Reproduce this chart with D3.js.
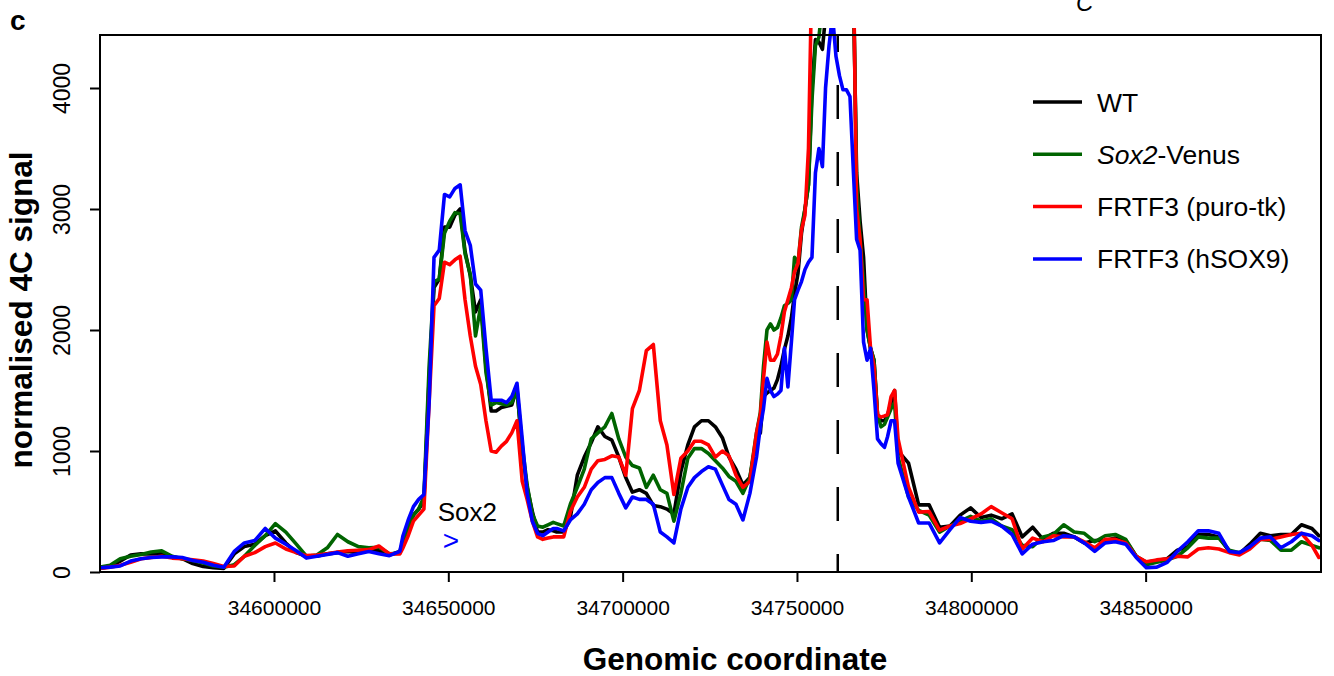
<!DOCTYPE html>
<html>
<head>
<meta charset="utf-8">
<script src="https://cdn.jsdelivr.net/npm/d3@7"></script>
<style>
  html, body { margin: 0; padding: 0; background: #fff; }
  svg { display: block; font-family: "Liberation Sans", Arial, Helvetica, sans-serif; }
</style>
</head>
<body>
<svg id="chart" width="1334" height="676"></svg>
<script>
// ---------------- data ----------------
const positions = [
  34550100, 34553000, 34555900, 34558900, 34561900, 34564800, 34567800, 34570800, 34573700, 34576700,
  34579700, 34582600, 34585600, 34588600, 34591500, 34594500, 34597500, 34600400, 34603400, 34606400,
  34609300, 34612300, 34615300, 34618200, 34621200, 34624200, 34627200, 34630100, 34633100, 34636100,
  34637000, 34638500, 34640000, 34641500, 34643000, 34644500, 34645900, 34647400, 34648900, 34650400,
  34651900, 34653400, 34654800, 34656300, 34657800, 34659300, 34660800, 34662300, 34663700, 34665200,
  34666700, 34668200, 34669700, 34671200, 34672600, 34674100, 34675600, 34677100, 34678600, 34680100,
  34681100, 34683100, 34685000, 34687000, 34689000, 34691000, 34692900, 34694900, 34696900, 34698900,
  34700900, 34702800, 34704800, 34706800, 34708800, 34710800, 34712700, 34714700, 34716700, 34718700,
  34720600, 34722600, 34724600, 34726600, 34728600, 34730500, 34732500, 34734500, 34736500, 34738400,
  34739500, 34740400, 34741400, 34742400, 34743400, 34744400, 34745400, 34746400, 34747400, 34748400,
  34749300, 34750300, 34751300, 34752300, 34753300, 34754300, 34755300, 34756300, 34757300, 34758200,
  34759200, 34760200, 34761200, 34762200, 34763200, 34764200, 34765200, 34766200, 34767100, 34768100,
  34769100, 34770100, 34771100, 34772100, 34773100, 34774100, 34775100, 34776000, 34777000, 34778000,
  34779000, 34782000, 34784900, 34787900, 34790900, 34793900, 34796800, 34799800, 34802800, 34805700,
  34808700, 34811700, 34814600, 34817600, 34820600, 34823500, 34826500, 34829500, 34832400, 34835400,
  34838400, 34841300, 34844300, 34847300, 34850200, 34853200, 34856200, 34859100, 34862100, 34865100,
  34868000, 34871000, 34874000, 34876900, 34879900, 34882900, 34885800, 34888800, 34891800, 34894700,
  34897700, 34899700
];

const wt = [
  30, 45, 90, 140, 150, 150, 150, 125, 110, 70, 45, 35, 30, 150, 210, 230, 300, 340, 240, 160,
  130, 130, 150, 160, 170, 160, 190, 175, 140, 170,
  250, 380, 470, 520, 580, 1600, 2350, 2420, 2850, 2850, 2950, 3000, 2650, 2450, 2150, 2250, 1700, 1330, 1330, 1360,
  1370, 1380, 1520, 1000, 700, 500, 330, 330, 350, 340,
  330, 330, 450, 800, 950, 1070, 1200, 1120, 1090, 950, 780, 660, 680, 650, 550, 540, 520, 480, 830, 1050,
  1200, 1250, 1250, 1200, 1110, 950, 850, 720, 780, 1100,
  1150, 1450, 1480, 1500, 1520, 1590, 1700, 1840, 1950, 2100, 2300, 2470, 2800, 3000, 3200, 4000, 4400, 4380, 4320, 4600,
  5000, 5000, 5000, 5000, 5000, 5000, 5000, 4800, 3300, 2900, 2600, 2000, 1850, 1750, 1300, 1250, 1250, 1300, 1400, 1500,
  1000, 900, 555, 555, 370, 380, 470, 530, 450, 470, 440, 480, 290, 370, 270, 320, 320, 290, 240, 260,
  260, 280, 260, 130, 80, 95, 110, 180, 210, 310, 310, 290, 170, 150, 230, 320, 300, 310, 310, 390,
  360, 300
];

const sox2Venus = [
  40, 55, 110, 130, 145, 165, 175, 130, 110, 95, 75, 50, 40, 60, 130, 220, 300, 400, 330, 230,
  130, 140, 200, 310, 250, 210, 200, 205, 150, 155,
  230, 360, 470, 520, 620, 1700, 2400, 2420, 2800, 2900, 2970, 2960, 2630, 2460, 1950, 2200, 1650, 1380, 1400, 1390,
  1380, 1400, 1500, 1050, 720, 480, 380, 370, 390, 410,
  400, 380, 560, 700, 850, 1100, 1150, 1200, 1310, 1100, 950, 880, 860, 700, 800, 680, 650, 420, 650, 940,
  1020, 1020, 980, 920, 860, 790, 750, 650, 780, 1150,
  1320, 1700, 2000, 2050, 2000, 2020, 2100, 2200, 2220, 2250, 2600, 2550, 2850, 3000, 3200, 3900, 4350, 4420, 4700, 5000,
  5000, 5000, 5000, 5000, 5000, 5000, 5000, 4900, 3200, 2760, 2400, 2000, 1850, 1750, 1300, 1200, 1220, 1280, 1350, 1400,
  950, 620, 510, 470, 330, 380, 420, 460, 420, 440, 380, 350, 220, 210, 290, 310, 390, 330, 320, 250,
  300, 310, 270, 130, 60, 80, 100, 130, 200, 290, 280, 280, 180, 160, 200, 270, 260, 180, 180, 250,
  220, 200
];

const puroTk = [
  30, 40, 55, 80, 110, 120, 130, 115, 110, 100, 90, 70, 45, 50, 130, 160, 210, 240, 190, 160,
  135, 140, 150, 165, 175, 180, 185, 215, 150, 150,
  200, 300, 420, 470, 520, 1400, 2200, 2260, 2560, 2540, 2580, 2610, 2250, 1950, 1700, 1550, 1250, 1000, 990, 1040,
  1080, 1150, 1250, 750, 600, 420, 290, 270, 280, 290,
  290, 290, 500, 620, 700, 850, 920, 930, 960, 950, 800, 1350, 1500, 1830, 1880, 1250, 1050, 640, 940, 1000,
  1080, 1080, 1050, 950, 1000, 960, 800, 700, 750, 1150,
  1300, 1600, 1900, 1750, 1750, 1800, 1950, 2150, 2250, 2350, 2480, 2550, 2830, 2950, 3500, 5000, 5000, 5000, 5000, 5000,
  5000, 5000, 5000, 5000, 5000, 5000, 5000, 5000, 3000, 2750, 2250, 2250, 1850, 1700, 1300, 1280, 1290, 1300, 1450, 1500,
  1100, 700, 495, 500, 345, 380, 400, 440, 480, 540, 490, 440, 190, 280, 250, 300, 290, 290, 250, 200,
  270, 270, 240, 130, 85, 100, 110, 130, 125, 190, 200, 190, 160, 140, 190, 270, 270, 290, 310, 320,
  220, 120
];

const hSox9 = [
  35, 40, 50, 90, 110, 120, 125, 125, 120, 95, 80, 55, 40, 170, 240, 260, 360, 280, 230, 175,
  115, 130, 145, 160, 130, 150, 170, 150, 135, 170,
  300, 430, 540, 600, 640, 1400, 2600, 2660, 3120, 3100, 3170, 3200, 2820, 2700, 2380, 2330, 1850, 1420, 1420, 1420,
  1400, 1450, 1560, 1100, 650, 420, 320, 300, 330, 360,
  360, 340, 430, 480, 560, 680, 740, 780, 780, 650, 530, 620, 600, 600, 560, 330, 290, 240, 520, 700,
  780, 830, 870, 850, 720, 600, 560, 430, 650, 950,
  1200, 1350, 1600, 1500, 1450, 1470, 1500, 1850, 1530, 1900, 2250, 2330, 2400, 2500, 2560, 2600, 3300, 3500, 3350, 4000,
  4350, 4600, 4260, 4100, 3985, 3985, 3930, 3300, 2750, 2660, 1900, 1750, 1850, 1500, 1100, 1060, 1030, 1120, 1250, 1250,
  900, 620, 405, 405, 240, 350, 450, 420, 410, 420, 380, 310, 150, 230, 250, 260, 300, 290, 240, 170,
  240, 250, 230, 120, 35, 40, 80, 170, 250, 340, 340, 320, 170, 160, 210, 280, 290, 200, 250, 320,
  300, 260
];

const seriesNames = ["WT", "Sox2-Venus", "FRTF3 (puro-tk)", "FRTF3 (hSOX9)"];
const seriesColors = ["#000000", "#006400", "#ff0000", "#0000ff"];
const xTicks = [34600000, 34650000, 34700000, 34750000, 34800000, 34850000];
const yTicks = [0, 1000, 2000, 3000, 4000];
const viewpoint = 34761700;
const sox2Position = 34651000;

// ---------------- drawing ----------------
const svg = d3.select("#chart");
const L = 100, R = 1321, T = 35, B = 572;

const x = d3.scaleLinear().domain([34550100, 34900300]).range([L, R]);
const y = d3.scaleLinear().domain([0, 4438]).range([B, T]);

svg.append("defs").append("clipPath").attr("id", "clip")
  .append("rect").attr("x", L).attr("y", 28).attr("width", R - L).attr("height", B - 28);

const allSeries = [wt, sox2Venus, puroTk, hSox9];
const line = d3.line().x((d, i) => x(positions[i])).y(d => y(d));

// dashed viewpoint line
svg.append("line")
  .attr("x1", x(viewpoint)).attr("x2", x(viewpoint))
  .attr("y1", T).attr("y2", B)
  .attr("stroke", "#000").attr("stroke-width", 2.5)
  .attr("stroke-dasharray", "34 33").attr("stroke-dashoffset", 17);

const g = svg.append("g").attr("clip-path", "url(#clip)");
allSeries.forEach((vals, k) => {
  g.append("path")
    .datum(vals)
    .attr("d", line)
    .attr("fill", "none")
    .attr("stroke", seriesColors[k])
    .attr("stroke-width", 3.6)
    .attr("stroke-linejoin", "round")
    .attr("stroke-linecap", "round");
});

// box
svg.append("rect").attr("x", L).attr("y", T).attr("width", R - L).attr("height", B - T)
  .attr("fill", "none").attr("stroke", "#000").attr("stroke-width", 2);

// x axis
const xAxis = svg.append("g").attr("transform", `translate(0,${B})`)
  .call(d3.axisBottom(x).tickValues(xTicks).tickFormat(d3.format("d")).tickSize(10).tickSizeOuter(0));
xAxis.select(".domain").remove();
xAxis.selectAll(".tick line").attr("stroke", "#000").attr("stroke-width", 2);
xAxis.selectAll(".tick text").attr("fill", "#000")
  .style("font-size", "21px").style("font-family", "'Liberation Sans', Arial, sans-serif")
  .attr("y", 43).attr("dy", 0);

// y axis
const yAxis = svg.append("g").attr("transform", `translate(${L},0)`)
  .call(d3.axisLeft(y).tickValues(yTicks).tickFormat(d3.format("d")).tickSize(10).tickSizeOuter(0));
yAxis.select(".domain").remove();
yAxis.selectAll(".tick line").attr("stroke", "#000").attr("stroke-width", 2);
yAxis.selectAll(".tick text").attr("fill", "#000")
  .style("font-size", "23px").style("font-family", "'Liberation Sans', Arial, sans-serif")
  .attr("transform", "rotate(-90)").attr("x", 0).attr("y", -30).attr("dy", 0)
  .attr("text-anchor", "middle");

// axis titles
svg.append("text").attr("x", 735).attr("y", 670).attr("text-anchor", "middle")
  .style("font-size", "31.5px").style("font-weight", "bold").text("Genomic coordinate");
svg.append("text").attr("transform", "translate(32,310) rotate(-90)").attr("text-anchor", "middle")
  .style("font-size", "31.5px").style("font-weight", "bold").text("normalised 4C signal");

// panel letter and cut-off header
svg.append("text").attr("x", 10).attr("y", 30).style("font-size", "28px").style("font-weight", "bold").text("c");
svg.append("text").attr("x", 1076).attr("y", 11).style("font-size", "24px").style("font-style", "italic").text("C");

// Sox2 annotation
svg.append("text").attr("x", x(sox2Position) - 14).attr("y", 521).style("font-size", "26px").text("Sox2");
svg.append("text").attr("x", x(sox2Position) - 9).attr("y", 550).style("font-size", "28px")
  .attr("fill", "#0000ff").text(">");

// legend
const legend = svg.append("g");
seriesNames.forEach((name, k) => {
  const ly = 102 + k * 52.3;
  legend.append("line").attr("x1", 1033).attr("x2", 1082).attr("y1", ly).attr("y2", ly)
    .attr("stroke", seriesColors[k]).attr("stroke-width", 3.5);
  const t = legend.append("text").attr("x", 1097).attr("y", ly + 9.5).style("font-size", "26.5px");
  if (name === "Sox2-Venus") {
    t.append("tspan").style("font-style", "italic").text("Sox2");
    t.append("tspan").text("-Venus");
  } else {
    t.text(name);
  }
});
</script>
</body>
</html>
